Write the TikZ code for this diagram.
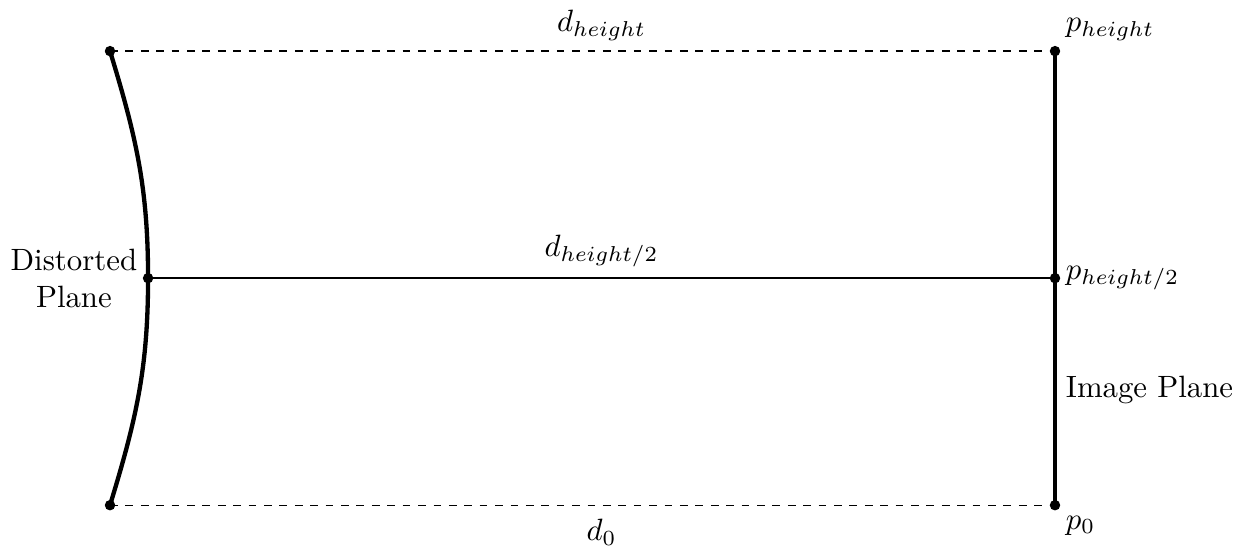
\documentclass[tikz,border=0pt]{standalone}
\usetikzlibrary{calc}

\begin{document}
\begin{tikzpicture}[x=1cm,y=1cm,
  dot/.style={circle,fill,inner sep=0pt,minimum size=3.4pt},
  planeline/.style={line width=1.4pt},
  guide/.style={dash pattern=on 2.5pt off 2.5pt}]
 \useasboundingbox (-1.255,-.456) rectangle (13.05,5.763);
 % points on the two planes
 \coordinate (dbot) at (0,0);
 \coordinate (dmid) at (.434,2.59);
 \coordinate (dtop) at (0,5.18);
 \coordinate (pbot) at (10.78,0);
 \coordinate (pmid) at (10.78,2.59);
 \coordinate (ptop) at (10.78,5.18);
 \draw[planeline] (dtop) to[out=-73,in=90] (dmid) to[out=-90,in=73] (dbot);
 \draw[planeline] (ptop)--(pbot);
 \draw[guide] (dtop)--(ptop);
 \draw[guide] (dbot)--(pbot);
 \draw[line width=.5pt] (dmid)--(pmid);
 \foreach \p in {dtop,dmid,dbot,ptop,pmid,pbot} \node[dot] at (\p) {};
 \coordinate (lx) at ($(dmid)!.5!(pmid)$);
 \node[above] (dh) at (lx|-dtop) {$d_{height}$};
 \node[above] (dhalf) at (lx) {$d_{height/2}$};
 \node[below=1pt] (dzero) at (lx|-dbot) {$d_0$};
 \node[above right] (ph) at (ptop) {$p_{height}$};
 \node[right] (phalf) at (pmid) {$p_{height/2}$};
 \node[below right] (pzero) at (pbot) {$p_0$};
 \node[left,align=center] (dplane) at (dmid) {Distorted\\Plane};
 \node[right] (iplane) at ($(pbot)+(0,1.31)$) {Image Plane};
\end{tikzpicture}
\end{document}
